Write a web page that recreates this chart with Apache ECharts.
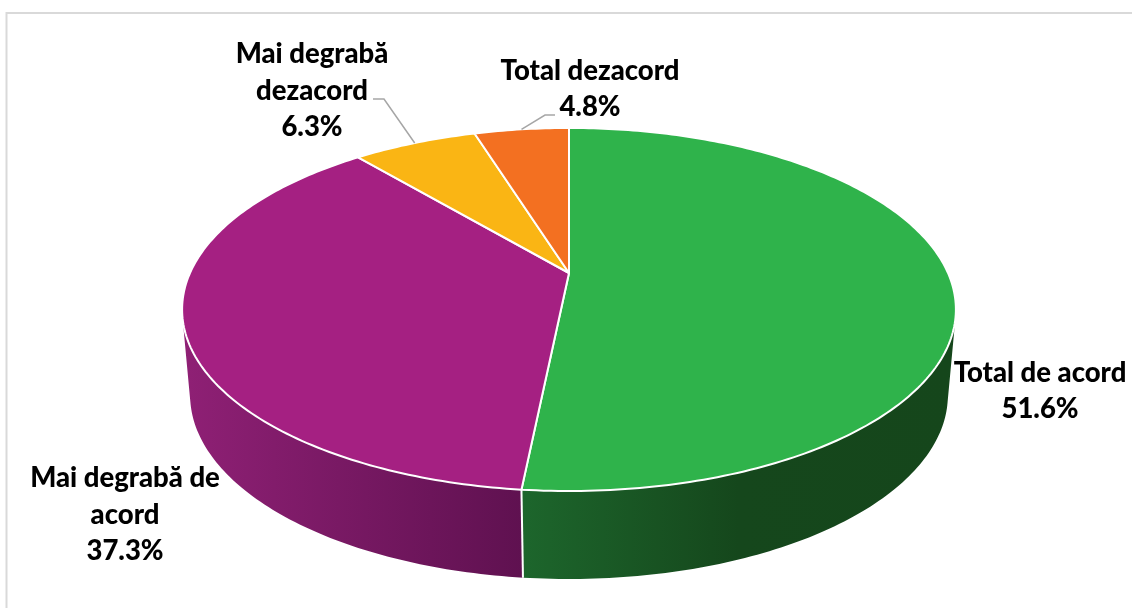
<!DOCTYPE html>
<html>
<head>
<meta charset="utf-8">
<style>
  html, body { margin: 0; background: #fff; }
  #chart { width: 1132px; height: 608px; }
</style>
<script src="https://cdn.jsdelivr.net/npm/echarts@6/dist/echarts.min.js"></script>
</head>
<body>
<div id="chart"></div>
<script>
const categories = ['Total de acord', 'Mai degrabă de\nacord', 'Mai degrabă\ndezacord', 'Total dezacord'];
const values = [51.6, 37.3, 6.3, 4.8];

const topColors = ['#2fb34b', '#a52082', '#fab514', '#f37021'];
const wallStops = [
  [[0, '#1d662c'], [0.5, '#15471c'], [1, '#15461b']],
  [[0, '#8f2075'], [1, '#5f1150']],
  [[0, '#96700c'], [1, '#96700c']],
  [[0, '#92431a'], [1, '#92431a']]
];

// perspective rims of the disc: centre, scale and tilt, in pixels
const topRim = { cx: 569, cy: 273, gx: 379, gy: 174.2, t: -0.201 };
const bottomRim = { cx: 569, cy: 360, gx: 372, gy: 177.4, t: -0.19 };

// label centre and optional leader elbow
const labelLayout = [
  { x: 1040, y: 391 },
  { x: 125, y: 515 },
  { x: 312, y: 91, leader: [[373, 99], [384, 99]] },
  { x: 590, y: 89, leader: [[555, 115], [545, 115]] }
];

const total = values.reduce((a, b) => a + b, 0);
const starts = [];
values.reduce((sum, v, i) => {
  starts[i] = sum;
  return sum + v;
}, 0);

// share is 0..100 clockwise from the top of the disc
function rimPoint(rim, share) {
  const a = (share / total) * Math.PI * 2;
  const x = Math.sin(a);
  const y = -Math.cos(a);
  const w = 1 + rim.t * y;
  return [rim.cx + (rim.gx * x) / w, rim.cy + (rim.gy * y) / w];
}

function arc(rim, from, to) {
  const pts = [];
  const n = Math.max(2, Math.ceil((to - from) * 4));
  for (let i = 0; i <= n; i++) {
    pts.push(rimPoint(rim, from + ((to - from) * i) / n));
  }
  return pts;
}

// wall as a strip of quads, all wound the same way so the union fills solid
function wallPath(from, to) {
  const a = arc(topRim, from, to);
  const b = arc(bottomRim, from, to);
  let d = '';
  for (let i = 0; i < a.length - 1; i++) {
    let quad = [a[i], a[i + 1], b[i + 1], b[i]];
    let area = 0;
    quad.forEach((p, k) => {
      const q = quad[(k + 1) % 4];
      area += p[0] * q[1] - q[0] * p[1];
    });
    if (area < 0) quad = quad.reverse();
    d += 'M' + quad.map(p => p[0].toFixed(2) + ' ' + p[1].toFixed(2)).join('L') + 'Z';
  }
  return d;
}

function renderWall(params) {
  const i = params.dataIndex;
  const from = starts[i];
  const to = from + values[i];
  return {
    type: 'group',
    children: [
      {
        type: 'path',
        shape: { pathData: wallPath(from, to) },
        style: {
          fill: new echarts.graphic.LinearGradient(0, 0, 1, 0,
            wallStops[i].map(s => ({ offset: s[0], color: s[1] })))
        }
      },
      {
        type: 'line',
        z2: 2,
        shape: {
          x1: rimPoint(topRim, from)[0], y1: rimPoint(topRim, from)[1],
          x2: rimPoint(bottomRim, from)[0], y2: rimPoint(bottomRim, from)[1]
        },
        style: { stroke: '#fff', lineWidth: 2 }
      }
    ]
  };
}

function renderTop(params) {
  const i = params.dataIndex;
  const from = starts[i];
  const points = [[topRim.cx, topRim.cy]].concat(arc(topRim, from, from + values[i]));
  return {
    type: 'polygon',
    shape: { points },
    style: { fill: topColors[i], stroke: '#fff', lineWidth: 2, lineJoin: 'round' }
  };
}

function renderLabel(params) {
  const i = params.dataIndex;
  const pos = labelLayout[i];
  const children = [{
    type: 'text',
    style: {
      x: pos.x,
      y: pos.y,
      text: categories[i] + '\n' + values[i].toFixed(1) + '%',
      align: 'center',
      verticalAlign: 'middle',
      fontFamily: 'Lato',
      fontWeight: 900,
      fontSize: 27.5,
      lineHeight: 36.5,
      fill: '#000'
    }
  }];
  if (pos.leader) {
    children.push({
      type: 'polyline',
      shape: { points: pos.leader.concat([rimPoint(topRim, starts[i] + values[i] / 2)]) },
      style: { stroke: '#a6a6a6', lineWidth: 1.5, fill: null }
    });
  }
  return { type: 'group', children };
}

const chart = echarts.init(document.getElementById('chart'));
chart.setOption({
  animation: false,
  backgroundColor: '#fff',
  graphic: [{
    type: 'rect',
    silent: true,
    shape: { x: 6.5, y: 13, width: 1200, height: 700 },
    style: { fill: null, stroke: '#d9d9d9', lineWidth: 2 }
  }],
  series: [
    { type: 'custom', coordinateSystem: 'none', silent: true, z: 1, data: values, renderItem: renderWall },
    { type: 'custom', coordinateSystem: 'none', silent: true, z: 2, data: values, renderItem: renderTop },
    { type: 'custom', coordinateSystem: 'none', silent: true, z: 3, data: values, renderItem: renderLabel }
  ]
});
</script>
</body>
</html>
